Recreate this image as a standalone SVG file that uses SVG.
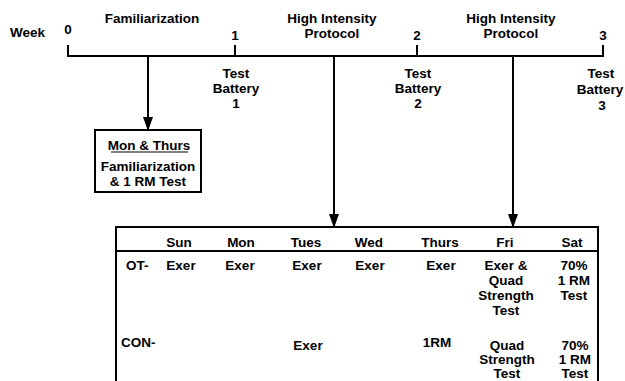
<svg xmlns="http://www.w3.org/2000/svg" width="625" height="381" viewBox="0 0 625 381">
<defs>
<marker id="ah" markerWidth="14" markerHeight="10" refX="13" refY="5" orient="auto" markerUnits="userSpaceOnUse" viewBox="0 0 14 10">
<path d="M0,0 L14,5 L0,10 Z" fill="#000"/>
</marker>
</defs>
<style>
text{font-family:"Liberation Sans",Arial,sans-serif;font-weight:bold;font-size:13.5px;fill:#000}
.c{text-anchor:middle}
.ln{stroke:#000;stroke-width:2;fill:none}
.bx{stroke:#000;stroke-width:2;fill:#fff}
</style>
<rect width="625" height="381" fill="#fff"/>
<g id="timeline">
<path class="ln" d="M68,45 V56 H603 V45 M235,45 V56 M417,45 V56"/>
<text x="10" y="37">Week</text>
<text class="c" x="68" y="34">0</text>
<text class="c" x="235" y="40">1</text>
<text class="c" x="417" y="40">2</text>
<text class="c" x="603" y="40">3</text>
<text class="c" x="152" y="23">Familiarization</text>
<text class="c" x="332" y="23">High Intensity</text>
<text class="c" x="332" y="38">Protocol</text>
<text class="c" x="511" y="23">High Intensity</text>
<text class="c" x="511" y="38">Protocol</text>
</g>
<g id="tb1">
<text class="c" x="236" y="78">Test</text>
<text class="c" x="236" y="93">Battery</text>
<text class="c" x="236" y="108">1</text>
</g>
<g id="tb2">
<text class="c" x="418" y="78">Test</text>
<text class="c" x="418" y="93">Battery</text>
<text class="c" x="418" y="108">2</text>
</g>
<g id="tb3">
<text class="c" x="601" y="78">Test</text>
<text class="c" x="600" y="94">Battery</text>
<text class="c" x="602" y="110">3</text>
</g>
<g id="connectors">
<line class="ln" x1="148" y1="57" x2="148" y2="130" marker-end="url(#ah)"/>
<line class="ln" x1="334" y1="57" x2="334" y2="227" marker-end="url(#ah)"/>
<line class="ln" x1="513" y1="57" x2="513" y2="227" marker-end="url(#ah)"/>
</g>
<g id="familiarization-box">
<rect class="bx" x="95" y="130" width="106" height="62"/>
<text class="c" x="149" y="150">Mon &amp; Thurs</text>
<line x1="111" y1="152" x2="188" y2="152" stroke="#000" stroke-width="1.2"/>
<text class="c" x="148" y="171">Familiarization</text>
<text class="c" x="148" y="186">&amp; 1 RM Test</text>
</g>
<g id="schedule-table">
<path class="ln" d="M116,383 V227 H598 V383 M116,251 H598"/>
<text class="c" x="179" y="247">Sun</text>
<text class="c" x="241" y="247">Mon</text>
<text class="c" x="306" y="247">Tues</text>
<text class="c" x="369" y="247">Wed</text>
<text class="c" x="440" y="247">Thurs</text>
<text class="c" x="505" y="247">Fri</text>
<text class="c" x="572" y="247">Sat</text>
<text x="126" y="270">OT-</text>
<text class="c" x="181" y="270">Exer</text>
<text class="c" x="240" y="270">Exer</text>
<text class="c" x="307" y="270">Exer</text>
<text class="c" x="370" y="270">Exer</text>
<text class="c" x="441" y="270">Exer</text>
<text class="c" x="506" y="270">Exer &amp;</text>
<text class="c" x="506" y="285">Quad</text>
<text class="c" x="506" y="300">Strength</text>
<text class="c" x="506" y="315">Test</text>
<text class="c" x="574" y="270">70%</text>
<text class="c" x="574" y="285">1 RM</text>
<text class="c" x="574" y="300">Test</text>
<text x="121" y="347">CON-</text>
<text class="c" x="308" y="350">Exer</text>
<text class="c" x="437" y="347">1RM</text>
<text class="c" x="507" y="350">Quad</text>
<text class="c" x="507" y="364">Strength</text>
<text class="c" x="507" y="378">Test</text>
<text class="c" x="575" y="350">70%</text>
<text class="c" x="575" y="364">1 RM</text>
<text class="c" x="575" y="378">Test</text>
</g>
</svg>
